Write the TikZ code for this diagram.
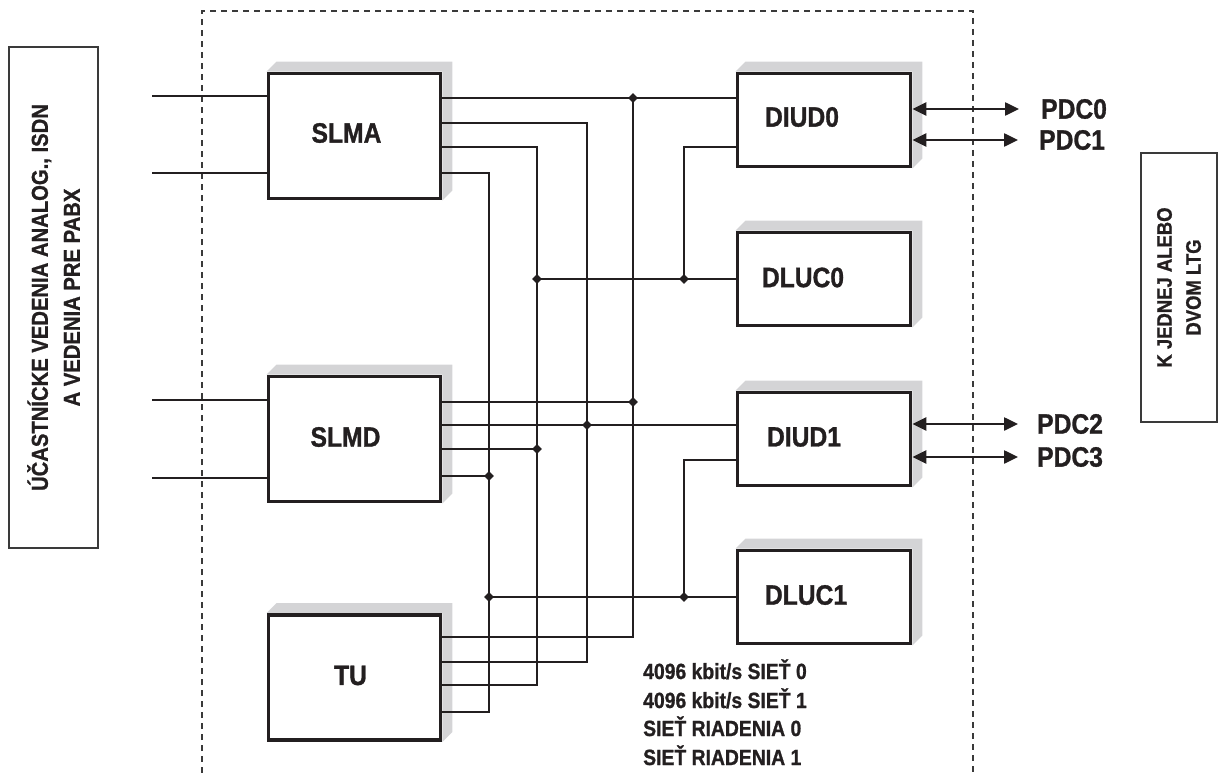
\documentclass[tikz,border=0pt]{standalone}
\usepackage{fontspec}
\setmainfont{Liberation Sans}[FakeStretch=0.88,FakeBold=1]
\usetikzlibrary{arrows.meta,calc,shapes.geometric,backgrounds}
\definecolor{ink}{HTML}{231F20}
\definecolor{inksoft}{HTML}{3A3A3A}
\definecolor{shadowgray}{HTML}{D4D4D6}

\begin{document}
\begin{tikzpicture}[
  x=1pt, y=-1pt,
  font=\bfseries,
  box/.style={draw=ink, fill=white, line width=3.8pt, minimum width=172pt, minimum height=125pt, inner sep=0pt},
  smallbox/.style={box, minimum width=173pt, minimum height=93pt},
  boxtext/.style={font=\fontsize{28}{30}\selectfont\bfseries, text=ink, inner sep=0pt},
  side/.style={draw=inksoft, line width=1.5pt, rotate=90, align=center, text=ink},
  wire/.style={draw=ink, line width=2.5pt},
  link/.style={wire, {Triangle[length=14pt,width=13pt]}-{Triangle[length=14pt,width=13pt]}, shorten >=22pt},
  dot/.style={diamond, fill=ink, inner sep=0pt, minimum size=10pt},
  frame/.style={draw=inksoft, line width=1.1pt, dash pattern=on 6pt off 5pt},
  portname/.style={font=\fontsize{28}{30}\selectfont\bfseries, text=ink, anchor=west, inner sep=0pt},
  note/.style={font=\fontsize{22}{28}\selectfont\bfseries, text=ink, anchor=base west, inner sep=0pt}
]
\useasboundingbox (0,0) rectangle (1227,773);

% outside boxes
\node[side, minimum width=501pt, minimum height=89pt, font=\fontsize{23}{32}\selectfont\bfseries] (subs) at (53.5,297.5) {ÚČASTNÍCKE VEDENIA ANALOG., ISDN\\A VEDENIA PRE PABX};
\node[side, minimum width=269pt, minimum height=76pt, font=\fontsize{21}{29}\selectfont\bfseries] (ltg) at (1179,287.5) {K JEDNEJ ALEBO\\DVOM LTG};

% LTG frame
\draw[frame] (202,773) -- (202,11) -- (973,11) -- (973,773);

% line modules
\node[box] (slma) at (354.5,136) {};
\node[boxtext] (lslma) at ($(slma)+(-8,-3)$) {SLMA};
\node[box] (slmd) at ($(slma)+(0,303)$) {};
\node[boxtext] (lslmd) at ($(slmd)+(-9,-2)$) {SLMD};
\node[box] (tu) at ($(slmd)+(0,238.5)$) {};
\node[boxtext] (ltu) at ($(tu)+(-4,-2)$) {TU};

% interface and link units
\node[smallbox] (diud0) at (824,120) {};
\node[boxtext] (ldiud0) at ($(diud0)+(-22,-3)$) {DIUD0};
\node[smallbox] (dluc0) at ($(diud0)+(0,159)$) {};
\node[boxtext] (ldluc0) at ($(dluc0)+(-21,-1.5)$) {DLUC0};
\node[smallbox] (diud1) at ($(dluc0)+(0,160)$) {};
\node[boxtext] (ldiud1) at ($(diud1)+(-20,-2)$) {DIUD1};
\node[smallbox] (dluc1) at ($(diud1)+(0,158)$) {};
\node[boxtext] (ldluc1) at ($(dluc1)+(-18,-2)$) {DLUC1};

\begin{scope}[on background layer]
\foreach \b in {slma,slmd,tu,diud0,dluc0,diud1,dluc1}
  \fill[shadowgray] (\b.north west) -- ++(10,-10) -- ($(\b.north east)+(10,-10)$) -- ($(\b.south east)+(10,-10)$) -- (\b.south east) -- (\b.north east) -- cycle;
\end{scope}

% subscriber lines
\coordinate (ia1) at (152,96);
\coordinate (ia2) at (152,173);
\coordinate (id1) at (152,400);
\coordinate (id2) at (152,478);
\draw[wire] (ia1) -- (slma.west|-ia1);
\draw[wire] (ia2) -- (slma.west|-ia2);
\draw[wire] (id1) -- (slmd.west|-id1);
\draw[wire] (id2) -- (slmd.west|-id2);

% junctions and bus corners
\node[dot] (j1) at (633,98) {};
\node[dot] (j2) at (633,402) {};
\node[dot] (j3) at (587,425) {};
\node[dot] (j4) at (537,449) {};
\node[dot] (j5) at (489,476) {};
\node[dot] (j6) at (537,279) {};
\node[dot] (j7) at (684,279) {};
\node[dot] (j8) at (489,597) {};
\node[dot] (j9) at (684,597) {};
\coordinate (c1) at (587,123);
\coordinate (c2) at (537,147);
\coordinate (c3) at (489,173);
\coordinate (e0) at (633,637);
\coordinate (e1) at (587,662);
\coordinate (e2) at (537,685);
\coordinate (e3) at (489,712);
\coordinate (k0) at (684,147);
\coordinate (k1) at (684,460);

% networks from SLMA down to TU
\draw[wire] (slma.east|-j1) -- (diud0.west|-j1);
\draw[wire] (slma.east|-c1) -- (c1) -- (e1) -- (tu.east|-e1);
\draw[wire] (slma.east|-c2) -- (c2) -- (e2) -- (tu.east|-e2);
\draw[wire] (slma.east|-c3) -- (c3) -- (e3) -- (tu.east|-e3);
\draw[wire] (j1.center) -- (e0) -- (tu.east|-e0);

% SLMD taps
\draw[wire] (slmd.east|-j2) -- (j2.center);
\draw[wire] (slmd.east|-j3) -- (diud1.west|-j3);
\draw[wire] (slmd.east|-j4) -- (j4.center);
\draw[wire] (slmd.east|-j5) -- (j5.center);

% control links
\draw[wire] (j6.center) -- (dluc0.west);
\draw[wire] (j7.center) -- (k0) -- (diud0.west|-k0);
\draw[wire] (j8.center) -- (dluc1.west);
\draw[wire] (j9.center) -- (k1) -- (diud1.west|-k1);

% PDC links
\node[portname] (pdc0) at (1041,109) {PDC0};
\node[portname] (pdc1) at (1039,140) {PDC1};
\node[portname] (pdc2) at (1037,424) {PDC2};
\node[portname] (pdc3) at (1037,457) {PDC3};
\draw[link] (diud0.east|-pdc0.west) -- (pdc0.west);
\draw[link, shorten >=21pt] (diud0.east|-pdc1.west) -- (pdc1.west);
\draw[link, shorten >=19pt] (diud1.east|-pdc2.west) -- (pdc2.west);
\draw[link, shorten >=19pt] (diud1.east|-pdc3.west) -- (pdc3.west);

% network legend
\node[note] (net0) at (643,679) {4096 kbit/s SIEŤ 0};
\node[note] (net1) at (643,708) {4096 kbit/s SIEŤ 1};
\node[note] (ctl0) at (643,736) {SIEŤ RIADENIA 0};
\node[note] (ctl1) at (643,765) {SIEŤ RIADENIA 1};

\end{tikzpicture}
\end{document}
